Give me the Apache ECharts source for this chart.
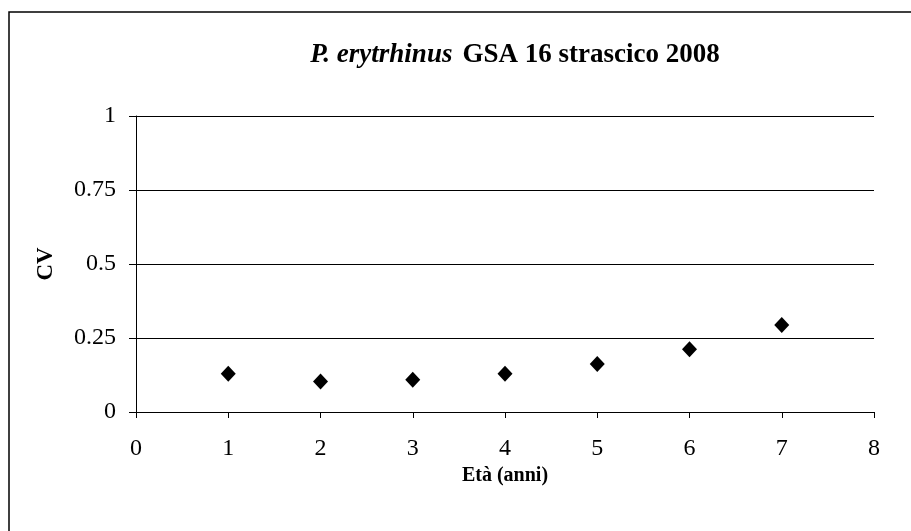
<!DOCTYPE html>
<html>
<head>
<meta charset="utf-8">
<style>
  html, body { margin: 0; padding: 0; background: #fff; }
  #chart { width: 911px; height: 531px; }
</style>
<script src="https://cdn.jsdelivr.net/npm/echarts@6/dist/echarts.min.js"></script>
</head>
<body>
<div id="chart"></div>
<script>
// età (anni) e CV
const ages = [1, 2, 3, 4, 5, 6, 7];
const cvValues = [0.129, 0.103, 0.109, 0.129, 0.162, 0.212, 0.294];
const xTicks = [0, 1, 2, 3, 4, 5, 6, 7, 8];
const yTicks = [0, 0.25, 0.5, 0.75, 1];

const font = '"Liberation Serif", "DejaVu Serif", serif';
const chart = echarts.init(document.getElementById('chart'));

const option = {
    animation: false,
    backgroundColor: '#fff',
    title: {
        text: '{i|P. erytrhinus}  {b|GSA 16 strascico 2008}',
        left: 510,
        top: 37,
        textAlign: 'center',
        textStyle: {
            rich: {
                i: { fontFamily: font, fontSize: 27, fontWeight: 'bold', fontStyle: 'italic', color: '#000' },
                b: { fontFamily: font, fontSize: 27, fontWeight: 'bold', color: '#000' }
            }
        }
    },
    graphic: [
        {
            type: 'rect',
            shape: { x: 9, y: 12, width: 920, height: 540 },
            style: { fill: 'none', stroke: '#000', lineWidth: 1.5 }
        }
    ],
    grid: {
        left: 136,
        right: 37,
        top: 116,
        bottom: 119
    },
    xAxis: {
        type: 'value',
        min: xTicks[0],
        max: xTicks[xTicks.length - 1],
        interval: 1,
        name: 'Età (anni)',
        nameLocation: 'middle',
        nameGap: 51,
        nameTextStyle: { fontFamily: font, fontSize: 20, fontWeight: 'bold', color: '#000' },
        axisLine: { show: true, onZero: false, lineStyle: { color: '#000', width: 1 } },
        axisTick: { show: true, inside: false, length: 6, lineStyle: { color: '#000' } },
        axisLabel: { fontFamily: font, fontSize: 24, color: '#000', margin: 25 },
        splitLine: { show: false }
    },
    yAxis: {
        type: 'value',
        min: yTicks[0],
        max: yTicks[yTicks.length - 1],
        interval: 0.25,
        name: 'CV',
        nameLocation: 'middle',
        nameGap: 78,
        nameRotate: 90,
        nameTextStyle: { fontFamily: font, fontSize: 23, fontWeight: 'bold', color: '#000' },
        axisLine: { show: true, lineStyle: { color: '#000', width: 1 } },
        axisTick: { show: true, inside: false, length: 7, lineStyle: { color: '#000' } },
        axisLabel: { fontFamily: font, fontSize: 24, color: '#000', margin: 20 },
        splitLine: { show: true, lineStyle: { color: '#000', width: 1 } }
    },
    series: [
        {
            type: 'scatter',
            symbol: 'diamond',
            symbolSize: [15, 16],
            itemStyle: { color: '#000', opacity: 1 },
            data: ages.map((a, i) => [a, cvValues[i]])
        }
    ]
};

chart.setOption(option);
</script>
</body>
</html>
